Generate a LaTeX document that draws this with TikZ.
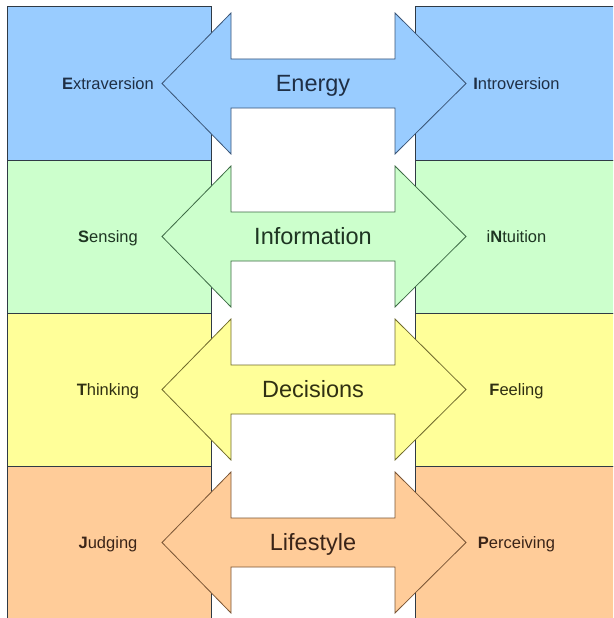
\documentclass[tikz,border=0pt]{standalone}
\usepackage{fontspec}
\setmainfont{Liberation Sans}
\definecolor{bfill}{HTML}{99CCFF}
\definecolor{gfill}{HTML}{CCFFCC}
\definecolor{yfill}{HTML}{FFFF99}
\definecolor{ofill}{HTML}{FFCC99}
\definecolor{bline}{HTML}{3A5577}
\definecolor{gline}{HTML}{3D6B45}
\definecolor{yline}{HTML}{706B2C}
\definecolor{oline}{HTML}{7A5535}
\definecolor{btext}{HTML}{1F2F45}
\definecolor{gtext}{HTML}{1E3522}
\definecolor{ytext}{HTML}{303012}
\definecolor{otext}{HTML}{3A2418}
\definecolor{boxline}{HTML}{2F3A45}
\begin{document}
\begin{tikzpicture}[x=1pt,y=-1pt,
  bandbox/.style={draw=boxline,line width=1pt},
  dblarrow/.style={line width=0.8pt,line join=miter},
  sidelabel/.style={font=\fontsize{16.5}{20}\selectfont,anchor=base,inner sep=0pt},
  midlabel/.style={font=\fontsize{23.5}{28}\selectfont,anchor=base,inner sep=0pt}]
\useasboundingbox (0,0) rectangle (613,618);
\clip (0,0) rectangle (613,618);
\fill[white] (0,0) rectangle (613,618);
\foreach \i/\fc in {0/bfill,1/gfill,2/yfill,3/ofill}{
  \pgfmathsetmacro{\top}{7+153*\i}
  \pgfmathsetmacro{\bot}{\top+153}
  \draw[bandbox,fill=\fc] (7,\top) rectangle (211,\bot);
  \draw[bandbox,fill=\fc] (415,\top) rectangle (625,\bot);
}
\foreach \i/\fc/\lc/\tc/\L/\M/\R in {
  0/bfill/bline/btext/{\textbf{E}xtraversion}/Energy/{\textbf{I}ntroversion},
  1/gfill/gline/gtext/{\textbf{S}ensing}/Information/{i\textbf{N}tuition},
  2/yfill/yline/ytext/{\textbf{T}hinking}/Decisions/{\textbf{F}eeling},
  3/ofill/oline/otext/{\textbf{J}udging}/Lifestyle/{\textbf{P}erceiving}}{
  \pgfmathsetmacro{\cy}{83.5+153*\i}
  \draw[dblarrow,draw=\lc,fill=\fc] (162,\cy) -- (231,\cy-70.5) -- (231,\cy-24.5)
    -- (395,\cy-24.5) -- (395,\cy-70.5) -- (466,\cy) -- (395,\cy+70.5)
    -- (395,\cy+24.5) -- (231,\cy+24.5) -- (231,\cy+70.5) -- cycle;
  \node[midlabel,text=\tc] (M\i) at (313,\cy+8.4) {\M};
  \node[sidelabel,text=\tc] (L\i) at (108,\cy+6) {\L};
  \node[sidelabel,text=\tc] (R\i) at (516.5,\cy+6) {\R};
}
\end{tikzpicture}
\end{document}
